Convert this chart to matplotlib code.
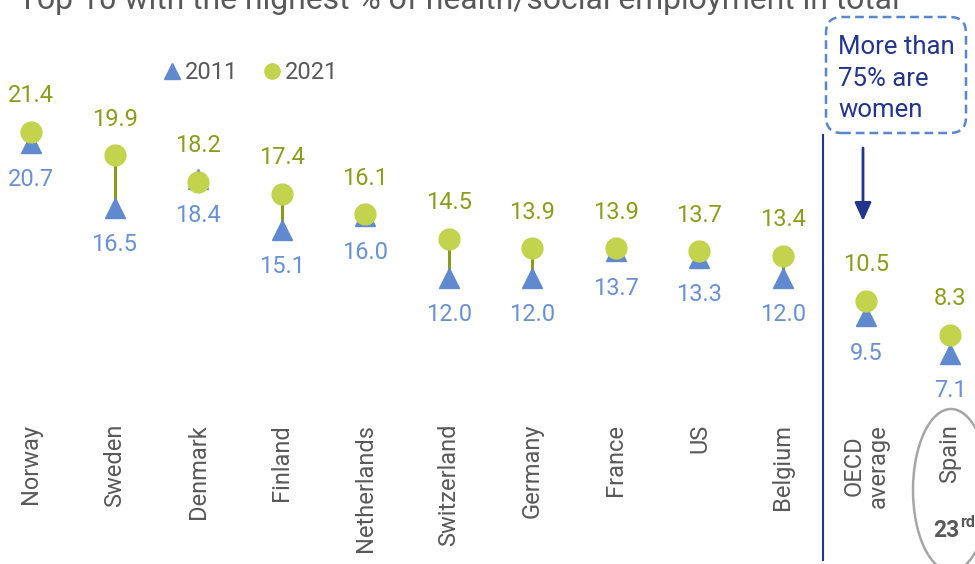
import matplotlib
matplotlib.use("Agg")
import matplotlib.pyplot as plt
from matplotlib.lines import Line2D
from matplotlib.patches import FancyBboxPatch, Ellipse, FancyArrowPatch
from matplotlib.transforms import IdentityTransform, blended_transform_factory

plt.rcParams['font.family'] = ['Roboto', 'DejaVu Sans']

# ---- data ----
countries = ["Norway", "Sweden", "Denmark", "Finland", "Netherlands", "Switzerland",
             "Germany", "France", "US", "Belgium", "OECD\naverage", "Spain"]
values_2011 = [20.7, 16.5, 18.4, 15.1, 16.0, 12.0, 12.0, 13.7, 13.3, 12.0, 9.5, 7.1]
values_2021 = [21.4, 19.9, 18.2, 17.4, 16.1, 14.5, 13.9, 13.9, 13.7, 13.4, 10.5, 8.3]
series_labels = ["2011", "2021"]
title = "Top 10 with the highest % of health/social employment in total"
callout_lines = ["More than", "75% are", "women"]
spain_rank = "23"
spain_rank_suffix = "rd"

# ---- style ----
W, H, DPI = 975, 564, 100
BLUE = "#6189cf"
BLUE_TXT = "#6a90d6"
GREEN = "#c3d34e"
OLIVE = "#8d9c1d"
NAVY = "#23358f"
DASH = "#5b86cc"
GRAY = "#595959"
FS = 17

fig = plt.figure(figsize=(W / DPI, H / DPI), dpi=DPI)
ax = fig.add_axes([0, 0, 1, 1])
ax.axis("off")
# axes limits so that category spacing / value scale match the reference
ax.set_xlim(-0.371, 11.299)
ax.set_ylim(-6.47, 29.92)

idt = IdentityTransform()
def px(x, y):
    """pixel coords measured from top-left -> display coords"""
    return x, H - y

x = list(range(len(countries)))

# connecting lines
for xi, a, b in zip(x, values_2011, values_2021):
    ax.plot([xi, xi], [a, b], color="#8a9a1a", lw=2.2, zorder=1, solid_capstyle="butt")

ax.plot(x, values_2011, linestyle="none", marker="^", markersize=14.5,
        color=BLUE, zorder=2)
ax.plot(x, values_2021, linestyle="none", marker="o", markersize=15,
        color=GREEN, zorder=3)

for xi, a, b in zip(x, values_2011, values_2021):
    ax.annotate(f"{b:.1f}", (xi, b), xytext=(0, 26), textcoords="offset points",
                ha="center", va="center", fontsize=FS, color=OLIVE)
    ax.annotate(f"{a:.1f}", (xi, a), xytext=(0, -26.5), textcoords="offset points",
                ha="center", va="center", fontsize=FS, color=BLUE_TXT)

# category labels
lab_tr = blended_transform_factory(ax.transData, idt)
for xi, c in zip(x, countries):
    ax.text(xi, H - 424, c, rotation=90, ha="center", va="top", fontsize=FS,
            color=GRAY, transform=lab_tr, multialignment="center",
            linespacing=1.05)

# legend
handles = [Line2D([], [], linestyle="none", marker="^", markersize=11, color=BLUE),
           Line2D([], [], linestyle="none", marker="o", markersize=11, color=GREEN)]
leg = ax.legend(handles, series_labels, loc="center left",
                bbox_to_anchor=(164 / W, 1 - 73 / H), bbox_transform=fig.transFigure,
                ncol=2, frameon=False, fontsize=FS, handlelength=0.7,
                handletextpad=0.2, columnspacing=1.05, borderpad=0, borderaxespad=0)
for t in leg.get_texts():
    t.set_color(GRAY)

# title (partially cropped at the top, as in the reference)
t = fig.text(18 / W, 1 - 9 / H, title, ha="left", va="baseline", fontsize=20, color=GRAY)
fig.canvas.draw()
bb = t.get_window_extent()
t.set_fontsize(20 * 882 / bb.width)

# separator line
fig.add_artist(Line2D([823, 823], [H - 135, H - 560], transform=idt, color=NAVY, lw=1.5))

# callout box
box = FancyBboxPatch(px(826, 133), 140, 116, boxstyle="round,pad=0,rounding_size=16",
                     transform=idt, facecolor="none", edgecolor=DASH, lw=1.8,
                     linestyle=(0, (3.5, 2)))
fig.add_artist(box)
for k, line in enumerate(callout_lines):
    fig.text(838 / W, 1 - (45 + 31.5 * k) / H, line, ha="left", va="center_baseline",
             fontsize=18.5, color=NAVY)

# arrow
arr = FancyArrowPatch(px(863, 148), px(863, 221), transform=idt,
                      arrowstyle="-|>,head_length=1.1,head_width=0.5",
                      mutation_scale=10, color=NAVY, lw=2, shrinkA=0, shrinkB=0)
fig.add_artist(arr)

# Spain highlight
ell = Ellipse(px(951, 490), 76, 162, transform=idt, facecolor="none",
              edgecolor="#a6a6a6", lw=1.8)
fig.add_artist(ell)
fig.text(960 / W, 1 - 537 / H, spain_rank, ha="right", va="baseline", fontsize=16.5,
         fontweight="bold", color=GRAY)
fig.text(960.5 / W, 1 - 527 / H, spain_rank_suffix, ha="left", va="baseline", fontsize=11.5,
         fontweight="bold", color=GRAY)

fig.savefig("out.png", dpi=DPI)
